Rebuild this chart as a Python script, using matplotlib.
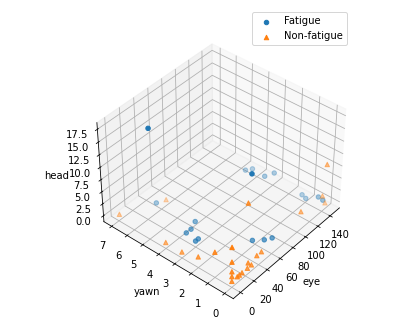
import matplotlib
matplotlib.use('Agg')
import matplotlib.pyplot as plt

# values
fatigue_eye = [21, 37, 41, 30, 23, 24, 20, 56, 64, 71, 140, 138, 142, 141, 116, 122, 64, 121, 131]
fatigue_yawn = [5.8, 6.2, 3.9, 3.7, 3.7, 3, 3, 1, 0.6, 0.4, 1.2, 0.9, 0.3, 0, 3.8, 3.6, 1.4, 2.8, 2.6]
fatigue_head = [17.5, 0, 0, 0, 0, 0, 0, 0, 0, 0, 0, 0, 1, 1, 3, 3, 12, 3, 3]

nonfatigue_eye = [1, 47, 0, 0, 0, 0, 0, 49, 0, 0, 0, 0, 8, 11, 15, 23, 24, 29, 37, 44, 105, 140, 145, 145]
nonfatigue_yawn = [7, 6, 4, 3, 2, 1, 0, 1, 0, 0, 0, 0, 0, 0, 0, 0, 0, 0, 0, 0, 0, 0, 0, 0]
nonfatigue_head = [0, 0, 0, 0, 1, 4, 7, 8.5, 4, 2, 1, 0, 0, 0, 0, 0, 1, 0, 1, 1, 2.5, 2, 0, 8]

fig = plt.figure(figsize=(405 / 72, 334 / 72), dpi=72)
ax = fig.add_axes([0.14, 0.09, 0.8, 0.8], projection='3d')

ax.scatter(fatigue_eye, fatigue_yawn, fatigue_head, marker='o', label='Fatigue')
ax.scatter(nonfatigue_eye, nonfatigue_yawn, nonfatigue_head, marker='^', label='Non-fatigue')

ax.set_xlabel('eye')
ax.set_ylabel('yawn')
ax.set_zlabel('head')
ax.view_init(40, -140)
ax.legend(loc='upper right', bbox_to_anchor=(1.0, 1.11))

fig.savefig('out.png', dpi=72)
